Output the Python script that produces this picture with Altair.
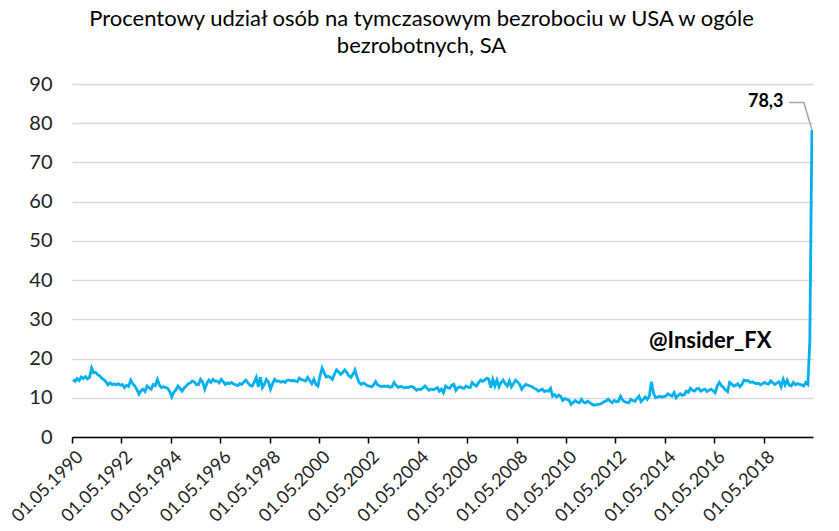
import altair as alt
import pandas as pd

# Monthly values (May 1990 - Apr 2020), % of unemployed on temporary layoff
v1990 = [14.6, 14.2, 14.9, 14.4, 15.3, 14.9, 15.4, 14.8]  # May-Dec
v1991 = [15.2, 17.6, 16.4, 16.5, 15.9, 15.6, 15.0, 14.6, 14.1, 13.3, 13.8, 13.4]
v1992 = [13.5, 13.3, 13.6, 13.2, 13.4, 12.6, 13.2, 12.9, 14.5, 13.6, 13.0, 12.1]
v1993 = [10.9, 11.8, 12.2, 11.6, 13.0, 12.5, 12.2, 13.4, 13.1, 14.7, 13.2, 12.6]
v1994 = [12.8, 12.6, 12.4, 11.6, 10.2, 11.4, 12.0, 13.0, 12.4, 11.7, 12.5, 13.0]
v1995 = [13.6, 13.8, 14.3, 14.0, 13.3, 13.4, 14.7, 14.0, 12.2, 13.6, 14.5, 13.9]
v1996 = [14.7, 14.2, 14.3, 13.8, 14.7, 14.1, 13.4, 13.8, 13.6, 13.9, 13.5, 13.3]
v1997 = [13.1, 13.6, 13.4, 14.0, 14.5, 13.8, 13.2, 13.0, 13.9, 15.2, 12.8, 15.2]
v1998 = [12.6, 13.5, 14.7, 14.0, 12.2, 13.6, 14.7, 14.2, 14.3, 14.0, 14.2, 13.9]
v1999 = [14.5, 14.5, 14.3, 14.4, 14.3, 14.1, 15.0, 14.6, 14.5, 14.3, 15.2, 14.4]
v2000 = [13.6, 14.7, 13.4, 13.0, 15.5, 17.6, 16.4, 15.3, 15.5, 15.2, 14.7, 16.0]
v2001 = [17.1, 16.6, 16.0, 16.4, 17.1, 16.5, 15.6, 15.2, 16.0, 17.1, 15.2, 13.9]
v2002 = [13.4, 13.8, 13.5, 13.1, 13.0, 12.8, 13.2, 14.1, 13.3, 13.0, 12.8, 13.0]
v2003 = [12.9, 13.0, 12.7, 12.8, 13.9, 13.2, 12.6, 12.9, 12.8, 12.5, 12.7, 12.6]
v2004 = [12.9, 12.8, 12.4, 11.9, 12.2, 12.1, 12.5, 13.0, 12.4, 11.9, 12.2, 12.1]
v2005 = [12.3, 12.6, 11.7, 12.2, 11.3, 13.0, 12.6, 12.4, 13.2, 13.4, 11.9, 12.6]
v2006 = [12.8, 12.5, 12.4, 13.0, 12.7, 12.6, 13.9, 13.3, 13.0, 13.8, 14.5, 14.2]
v2007 = [14.5, 15.0, 14.8, 12.6, 14.7, 13.0, 14.5, 12.8, 13.9, 14.5, 13.6, 13.0]
v2008 = [14.3, 12.8, 13.6, 14.5, 14.0, 13.4, 12.2, 12.9, 13.4, 13.2, 13.0, 12.8]
v2009 = [12.4, 12.2, 11.7, 11.9, 12.2, 11.6, 11.8, 11.7, 12.4, 10.4, 10.8, 10.2]
v2010 = [10.7, 10.3, 9.3, 9.8, 9.6, 9.4, 8.3, 8.8, 9.3, 8.9, 8.7, 9.6]
v2011 = [8.9, 8.7, 9.1, 8.8, 8.4, 8.1, 8.2, 8.3, 8.4, 8.6, 9.0, 9.2]
v2012 = [9.6, 9.1, 8.7, 9.3, 9.0, 9.1, 10.4, 9.4, 9.0, 8.8, 8.7, 9.6]
v2013 = [9.3, 9.1, 9.8, 10.4, 9.0, 9.6, 10.2, 9.6, 10.4, 14.1, 11.2, 10.0]
v2014 = [10.2, 10.4, 10.2, 10.3, 10.4, 11.0, 10.7, 10.4, 11.3, 10.0, 10.6, 11.0]
v2015 = [10.6, 10.8, 11.7, 11.4, 12.4, 11.9, 11.7, 12.3, 12.4, 11.7, 12.0, 12.2]
v2016 = [11.6, 11.9, 12.2, 11.8, 11.3, 13.0, 13.9, 13.1, 12.6, 12.0, 11.6, 13.9]
v2017 = [13.5, 13.0, 13.2, 13.6, 12.8, 13.4, 14.5, 14.3, 14.4, 13.9, 14.1, 13.8]
v2018 = [13.6, 13.7, 13.3, 13.6, 13.9, 13.6, 13.5, 14.3, 13.8, 13.4, 13.8, 14.1]
v2019 = [12.8, 14.7, 13.3, 14.5, 13.2, 13.0, 13.9, 13.3, 13.6, 13.4, 13.3, 13.0]
v2020 = [13.9, 13.4, 24.5, 78.3]  # Jan-Apr

values = (v1990 + v1991 + v1992 + v1993 + v1994 + v1995 + v1996 + v1997 + v1998
          + v1999 + v2000 + v2001 + v2002 + v2003 + v2004 + v2005 + v2006 + v2007
          + v2008 + v2009 + v2010 + v2011 + v2012 + v2013 + v2014 + v2015 + v2016
          + v2017 + v2018 + v2019 + v2020)

tick_years = list(range(1990, 2019, 2))  # ticks at 01.05 of each even year
y_ticks = [0, 10, 20, 30, 40, 50, 60, 70, 80, 90]
title_lines = ["Procentowy udział osób na tymczasowym bezrobociu w USA w ogóle",
               "bezrobotnych, SA"]
last_label = "78,3"
watermark = "@Insider_FX"

months = pd.date_range("1990-05-01", periods=len(values), freq="MS") + pd.Timedelta(days=14)
df = pd.DataFrame({"date": months.strftime("%Y-%m-%dT00:00:00"), "value": values})

FONT = "Lato"
x_scale = alt.Scale(domain=[alt.DateTime(year=1990, month=5, date=1),
                            alt.DateTime(year=2020, month=5, date=1)])
y_scale = alt.Scale(domain=[0, 90])

x_axis = alt.Axis(values=[alt.DateTime(year=y, month=5, date=1) for y in tick_years],
                  format="%d.%m.%Y", labelAngle=-45, labelAlign="right",
                  labelBaseline="middle", labelFontSize=18, labelFont=FONT,
                  labelColor="#222222", domainColor="#000000", domainWidth=1.5,
                  tickColor="#000000", tickSize=6, tickWidth=1.5, labelPadding=11,
                  labelOffset=8, grid=False, title=None, labelOverlap=False,
                  labelFlush=False)
y_axis = alt.Axis(values=y_ticks, labelFontSize=20, labelFont=FONT,
                  labelColor="#222222", domain=False, ticks=False, labelPadding=20,
                  labelOverlap=False, gridColor="#D9D9D9", gridWidth=1.3, title=None)


def xenc():
    return alt.X("date:T", scale=x_scale, axis=x_axis)


def yenc():
    return alt.Y("value:Q", scale=y_scale, axis=y_axis)


line = alt.Chart(df).mark_line(color="#00B0F0", strokeWidth=2.8, clip=True).encode(
    x=xenc(), y=yenc())

leader_df = pd.DataFrame({
    "date": ["2019-05-10T00:00:00", "2019-12-18T00:00:00", "2020-04-15T00:00:00"],
    "value": [85.3, 85.3, 78.3],
    "order": [0, 1, 2],
})
leader = alt.Chart(leader_df).mark_line(color="#A6A6A6", strokeWidth=1.6).encode(
    x=xenc(), y=yenc(), order="order:Q")

label_df = pd.DataFrame({"date": ["2019-02-20T00:00:00"], "value": [85.3], "text": [last_label]})
label = alt.Chart(label_df).mark_text(align="right", baseline="middle", font=FONT,
                                      fontSize=18, fontWeight="bold", color="#000000").encode(
    x=xenc(), y=yenc(), text="text:N")

wm_df = pd.DataFrame({"date": ["2016-03-03T00:00:00"], "value": [24.5], "text": [watermark]})
wm = alt.Chart(wm_df).mark_text(align="center", baseline="middle", font=FONT,
                                fontSize=22, fontWeight="bold", color="#000000").encode(
    x=xenc(), y=yenc(), text="text:N")

chart = alt.layer(line, leader, label, wm).properties(
    width=741, height=353,
    autosize=alt.AutoSizeParams(type="none"),
    padding={"left": 64, "top": 76, "right": 10, "bottom": 110},
    title=alt.TitleParams(text=title_lines, font=FONT, fontSize=22, fontWeight="normal",
                          color="#000000", anchor="middle", dx=-21, lineHeight=27, offset=16),
).configure(background="white", view=alt.ViewConfig(stroke=None))

chart.save("out.html", embed_options={"renderer": "svg", "actions": False})
